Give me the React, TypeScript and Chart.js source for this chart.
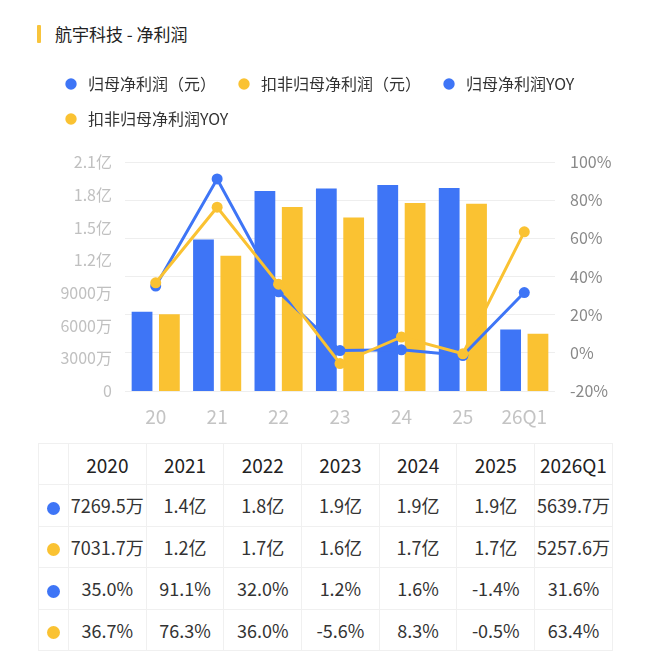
import React, { useEffect, useRef } from 'react';
import { Chart, registerables } from 'chart.js';

Chart.register(...registerables);

// ---- data ----
const categories = ['2020', '2021', '2022', '2023', '2024', '2025', '2026Q1'];
const xTickLabels = ['20', '21', '22', '23', '24', '25', '26Q1'];
// 万元
const netProfit = [7269.5, 13900, 18350, 18580, 18880, 18610, 5639.7];
const deductedNetProfit = [7031.7, 12410, 16870, 15920, 17250, 17160, 5257.6];
// %
const netProfitYoy = [35.0, 91.1, 32.0, 1.2, 1.6, -1.4, 31.6];
const deductedNetProfitYoy = [36.7, 76.3, 36.0, -5.6, 8.3, -0.5, 63.4];
const leftTickLabels = ['0', '3000万', '6000万', '9000万', '1.2亿', '1.5亿', '1.8亿', '2.1亿'];
const rightTickLabels = ['-20%', '0%', '20%', '40%', '60%', '80%', '100%'];
const seriesNames = ['归母净利润（元）', '扣非归母净利润（元）', '归母净利润YOY', '扣非归母净利润YOY'];
const titleText = '航宇科技 - 净利润';

const BLUE = '#3E75F6';
const YELLOW = '#FAC232';
const FONT = '"Noto Sans CJK SC", "Noto Sans", sans-serif';

function fmtAmount(v: number): string {
  if (v >= 10000) return (v / 10000).toFixed(1) + '亿';
  return v.toFixed(1) + '万';
}
function fmtPct(v: number): string {
  return v.toFixed(1) + '%';
}

function circleImage(color: string): HTMLCanvasElement {
  const c = document.createElement('canvas');
  c.width = 12;
  c.height = 12;
  const ctx = c.getContext('2d')!;
  ctx.fillStyle = color;
  ctx.beginPath();
  ctx.arc(6, 6, 5.7, 0, Math.PI * 2);
  ctx.fill();
  return c;
}

const LEGEND_HEIGHT = 105;

const legendSpacer = {
  id: 'legendSpacer',
  beforeLayout(chart: any) {
    const lg = chart.legend;
    if (lg && !lg.__patched) {
      const orig = lg.fit;
      lg.fit = function () {
        orig.call(this);
        this.height = LEGEND_HEIGHT;
      };
      lg.__patched = true;
    }
  },
};

function ChartView() {
  const ref = useRef<HTMLCanvasElement | null>(null);
  useEffect(() => {
    if (!ref.current) return;
    Chart.defaults.font.family = FONT;
    const colors = [BLUE, YELLOW, BLUE, YELLOW];
    const imgs = colors.map(circleImage);
    const chart = new Chart(ref.current, {
      type: 'bar',
      data: {
        labels: categories,
        datasets: [
          {
            type: 'bar',
            label: seriesNames[0],
            data: netProfit,
            backgroundColor: BLUE,
            yAxisID: 'y',
            categoryPercentage: 0.89,
            barPercentage: 0.76,
            order: 0,
          },
          {
            type: 'bar',
            label: seriesNames[1],
            data: deductedNetProfit,
            backgroundColor: YELLOW,
            yAxisID: 'y',
            categoryPercentage: 0.89,
            barPercentage: 0.76,
            order: 0,
          },
          {
            type: 'line',
            label: seriesNames[2],
            data: netProfitYoy,
            borderColor: BLUE,
            backgroundColor: BLUE,
            pointBackgroundColor: BLUE,
            pointBorderWidth: 0,
            pointRadius: 5.5,
            borderWidth: 3,
            tension: 0,
            yAxisID: 'y1',
            order: -1,
          },
          {
            type: 'line',
            label: seriesNames[3],
            data: deductedNetProfitYoy,
            borderColor: YELLOW,
            backgroundColor: YELLOW,
            pointBackgroundColor: YELLOW,
            pointBorderWidth: 0,
            pointRadius: 5.5,
            borderWidth: 3,
            tension: 0,
            yAxisID: 'y1',
            order: -2,
          },
        ] as any,
      },
      options: {
        animation: false,
        responsive: false,
        maintainAspectRatio: false,
        layout: { padding: { left: 43, right: 0, top: 7, bottom: 0 } },
        plugins: {
          tooltip: { enabled: false },
          legend: {
            position: 'top',
            align: 'start',
            labels: {
              usePointStyle: true,
              pointStyleWidth: 18,
              boxHeight: 12,
              padding: 19,
              color: '#333333',
              font: { size: 16, family: FONT },
              generateLabels: () =>
                seriesNames.map((name, i) => ({
                  text: name,
                  fillStyle: colors[i],
                  strokeStyle: colors[i],
                  lineWidth: 0,
                  hidden: false,
                  datasetIndex: i,
                  pointStyle: imgs[i] as any,
                  fontColor: '#333333',
                })),
            },
          },
        },
        scales: {
          x: {
            grid: { display: false, drawTicks: false },
            border: { display: false },
            ticks: {
              color: '#c4c4c4',
              font: { size: 19, family: FONT },
              padding: 14,
              autoSkip: false,
              maxRotation: 0,
              callback: (_v: any, i: number) => xTickLabels[i],
            },
            afterFit: (s: any) => {
              s.height = 49;
            },
          },
          y: {
            position: 'left',
            min: 0,
            max: 21000,
            grid: { display: false, drawTicks: false },
            border: { display: false },
            ticks: {
              stepSize: 3000,
              color: '#c0c0c0',
              font: { size: 16, family: FONT },
              padding: 13,
              autoSkip: false,
              callback: (_v: any, i: number) => leftTickLabels[i],
            },
            afterFit: (s: any) => {
              s.width = 82;
            },
          },
          y1: {
            position: 'right',
            min: -20,
            max: 100,
            grid: { color: '#eeeeee', lineWidth: 1, drawTicks: false },
            border: { display: false },
            ticks: {
              stepSize: 20,
              color: '#888888',
              font: { size: 16, family: FONT },
              padding: 15,
              autoSkip: false,
              callback: (_v: any, i: number) => rightTickLabels[i],
            },
            afterFit: (s: any) => {
              s.width = 95;
            },
          },
        },
      } as any,
      plugins: [legendSpacer as any],
    });
    return () => chart.destroy();
  }, []);
  return (
    <canvas
      ref={ref}
      width={650}
      height={390}
      style={{ position: 'absolute', left: 0, top: 50, width: 650, height: 390 }}
    />
  );
}

const cellBase: React.CSSProperties = {
  border: '1px solid #f0f0f0',
  padding: 0,
  textAlign: 'center',
  verticalAlign: 'middle',
  whiteSpace: 'nowrap',
  color: '#333333',
  fontSize: 18,
  fontWeight: 400,
};

function Dot({ color }: { color: string }) {
  return (
    <span
      style={{
        display: 'inline-block',
        width: 13,
        height: 13,
        borderRadius: '50%',
        background: color,
        verticalAlign: 'middle',
      }}
    />
  );
}

function DataTable() {
  const rows = [
    { color: BLUE, cells: netProfit.map(fmtAmount) },
    { color: YELLOW, cells: deductedNetProfit.map(fmtAmount) },
    { color: BLUE, cells: netProfitYoy.map(fmtPct) },
    { color: YELLOW, cells: deductedNetProfitYoy.map(fmtPct) },
  ];
  return (
    <table
      style={{
        position: 'absolute',
        left: 38,
        top: 443,
        width: 574,
        borderCollapse: 'collapse',
        tableLayout: 'fixed',
        fontFamily: FONT,
      }}
    >
      <colgroup>
        <col style={{ width: 30 }} />
        {categories.map((c) => (
          <col key={c} style={{ width: 77.7 }} />
        ))}
      </colgroup>
      <thead>
        <tr style={{ height: 41 }}>
          <th style={cellBase}></th>
          {categories.map((c) => (
            <th key={c} style={{ ...cellBase, fontSize: 19, color: '#222222' }}>
              {c}
            </th>
          ))}
        </tr>
      </thead>
      <tbody>
        {rows.map((r, ri) => (
          <tr key={ri} style={{ height: 41.5 }}>
            <td style={cellBase}>
              <Dot color={r.color} />
            </td>
            {r.cells.map((t, ci) => (
              <td key={ci} style={cellBase}>
                {t}
              </td>
            ))}
          </tr>
        ))}
      </tbody>
    </table>
  );
}

export default function App() {
  return (
    <div
      style={{
        position: 'absolute',
        left: 0,
        top: 0,
        width: 650,
        height: 665,
        background: '#ffffff',
        fontFamily: FONT,
        overflow: 'hidden',
      }}
    >
      <div
        style={{
          position: 'absolute',
          left: 37,
          top: 25,
          width: 4,
          height: 18,
          background: '#F8C43C',
          borderRadius: 1,
        }}
      />
      <div
        style={{
          position: 'absolute',
          left: 55,
          top: 22,
          fontSize: 17,
          lineHeight: '24px',
          fontWeight: 400,
          color: '#222222',
          whiteSpace: 'nowrap',
        }}
      >
        {titleText}
      </div>
      <ChartView />
      <DataTable />
    </div>
  );
}
